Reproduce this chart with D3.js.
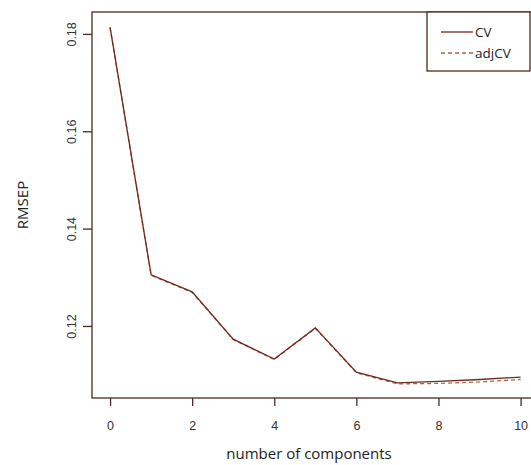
<!DOCTYPE html>
<html>
<head>
<meta charset="utf-8">
<script src="https://cdn.jsdelivr.net/npm/d3@7"></script>
<style>
  html, body { margin: 0; padding: 0; background: #fff; }
  svg { display: block; }
</style>
</head>
<body>
<div id="chart"></div>
<script>
const width = 531;
const height = 465;

// data
const components = [0, 1, 2, 3, 4, 5, 6, 7, 8, 9, 10];
const cvValues    = [0.1814, 0.1305, 0.1270, 0.1173, 0.1132, 0.1196, 0.1105, 0.1083, 0.1086, 0.1090, 0.1095];
const adjcvValues = [0.1813, 0.1304, 0.1269, 0.1172, 0.1131, 0.1195, 0.1104, 0.1081, 0.1082, 0.1085, 0.1090];
const xTicks = [0, 2, 4, 6, 8, 10];
const yTicks = [0.12, 0.14, 0.16, 0.18];
const legendLabels = ["CV", "adjCV"];

const lineColor = "#6e2a1e";
const adjColor = "#b0604e";
const frameColor = "#4a2a22";

const svg = d3.select("#chart").append("svg")
    .attr("width", width)
    .attr("height", height);

const plot = { left: 92, right: 537, top: 12, bottom: 398 };

const x = d3.scaleLinear().domain([-0.44, 10.4]).range([plot.left, plot.right]);
const y = d3.scaleLinear().domain([0.1052, 0.1845]).range([plot.bottom, plot.top]);

// frame
svg.append("rect")
    .attr("x", plot.left).attr("y", plot.top)
    .attr("width", plot.right - plot.left).attr("height", plot.bottom - plot.top)
    .attr("fill", "none").attr("stroke", frameColor).attr("stroke-width", 1.3);

// x axis
const xAxis = svg.append("g")
    .attr("transform", `translate(0,${plot.bottom})`)
    .call(d3.axisBottom(x).tickValues(xTicks).tickSize(8).tickPadding(15).tickFormat(d3.format("d")));
xAxis.select(".domain").remove();
xAxis.selectAll("line").attr("stroke", frameColor).attr("stroke-width", 1.3);
xAxis.selectAll("text")
    .attr("font-family", "Liberation Sans, Arial, sans-serif")
    .attr("font-size", 12.5).attr("fill", "#333");

// y axis, labels turned sideways like R does
const yAxis = svg.append("g")
    .attr("transform", `translate(${plot.left},0)`)
    .call(d3.axisLeft(y).tickValues(yTicks).tickSize(9).tickFormat(d3.format(".2f")));
yAxis.select(".domain").remove();
yAxis.selectAll("line").attr("stroke", frameColor).attr("stroke-width", 1.3);
yAxis.selectAll("text")
    .attr("font-family", "Liberation Sans, Arial, sans-serif")
    .attr("font-size", 12.5).attr("fill", "#333")
    .attr("text-anchor", "middle")
    .attr("x", 0).attr("y", 0).attr("dy", null)
    .attr("transform", "translate(-16,0) rotate(-90)");

// axis titles
svg.append("text")
    .attr("x", 309).attr("y", 459)
    .attr("text-anchor", "middle")
    .attr("font-family", "Open Sans, Noto Sans, sans-serif")
    .attr("font-size", 15).attr("fill", "#222")
    .text("number of components");

svg.append("text")
    .attr("transform", "translate(28,205) rotate(-90)")
    .attr("text-anchor", "middle")
    .attr("font-family", "Open Sans, Noto Sans, sans-serif")
    .attr("font-size", 15).attr("fill", "#222")
    .text("RMSEP");

// lines
const line = d3.line().x((d, i) => x(components[i])).y(d => y(d));

svg.append("path")
    .datum(adjcvValues)
    .attr("d", line)
    .attr("fill", "none").attr("stroke", adjColor)
    .attr("stroke-width", 1.3).attr("stroke-dasharray", "4,3");

svg.append("path")
    .datum(cvValues)
    .attr("d", line)
    .attr("fill", "none").attr("stroke", lineColor)
    .attr("stroke-width", 1.3);

// legend
const legend = svg.append("g");
legend.append("rect")
    .attr("x", 427).attr("y", plot.top)
    .attr("width", 103).attr("height", 59)
    .attr("fill", "#fff").attr("stroke", frameColor).attr("stroke-width", 1.3);

legendLabels.forEach((label, i) => {
    const ly = 32 + i * 21;
    legend.append("line")
        .attr("x1", 441).attr("x2", 473)
        .attr("y1", ly).attr("y2", ly)
        .attr("stroke", i === 0 ? lineColor : adjColor)
        .attr("stroke-width", 1.3)
        .attr("stroke-dasharray", i === 0 ? null : "4,3");
    legend.append("text")
        .attr("x", 475).attr("y", ly)
        .attr("dy", "0.35em")
        .attr("font-family", "Open Sans, Noto Sans, sans-serif")
        .attr("font-size", 13.5).attr("fill", "#222")
        .text(label);
});
</script>
</body>
</html>
